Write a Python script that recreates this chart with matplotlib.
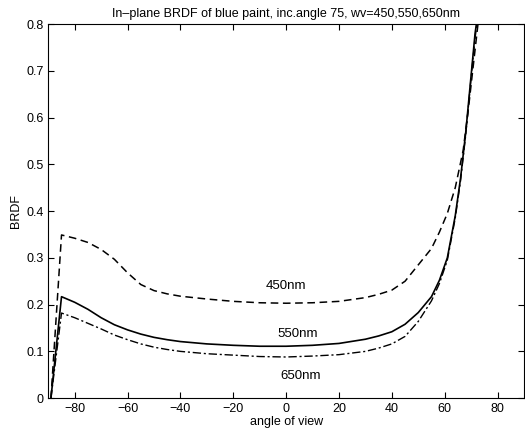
import matplotlib
matplotlib.use('Agg')
import matplotlib.pyplot as plt

plt.rcParams['font.family'] = ['Liberation Sans', 'DejaVu Sans']

# in-plane BRDF
angle_450 = [-89, -85, -80, -75, -70, -65, -60, -55, -50, -45, -40, -30, -20, -10, 0, 10, 20, 30, 35, 40, 45, 50, 55, 58, 61, 64, 67, 69, 71, 72.6]
brdf_450 = [0.0, 0.349, 0.342, 0.333, 0.318, 0.297, 0.268, 0.243, 0.230, 0.223, 0.218, 0.212, 0.207, 0.204, 0.203, 0.204, 0.207, 0.215, 0.222, 0.231, 0.250, 0.285, 0.320, 0.355, 0.395, 0.450, 0.530, 0.620, 0.720, 0.80]

angle_550 = [-89, -85, -80, -75, -70, -65, -60, -55, -50, -45, -40, -30, -20, -10, 0, 10, 20, 30, 35, 40, 45, 50, 55, 58, 61, 64, 66, 68, 70, 71.5, 72]
brdf_550 = [0.0, 0.217, 0.205, 0.190, 0.172, 0.157, 0.146, 0.137, 0.130, 0.125, 0.121, 0.116, 0.113, 0.111, 0.111, 0.113, 0.117, 0.126, 0.133, 0.142, 0.158, 0.183, 0.217, 0.252, 0.300, 0.390, 0.470, 0.570, 0.690, 0.780, 0.80]

angle_650 = [-89, -85, -80, -75, -70, -65, -60, -55, -50, -45, -40, -30, -20, -10, 0, 10, 20, 30, 35, 40, 45, 50, 55, 58, 61, 64, 66, 68, 70, 71.5, 72.2]
brdf_650 = [0.0, 0.182, 0.172, 0.160, 0.148, 0.135, 0.125, 0.116, 0.109, 0.104, 0.100, 0.095, 0.092, 0.089, 0.088, 0.090, 0.093, 0.100, 0.107, 0.116, 0.132, 0.164, 0.208, 0.245, 0.295, 0.385, 0.465, 0.565, 0.685, 0.770, 0.80]

labels = ['450nm', '550nm', '650nm']
label_x = [0, 4.4, 5.3]
label_y = [0.24, 0.137, 0.048]

fig = plt.figure(figsize=(5.25, 4.38), dpi=100)
ax = fig.add_axes([0.092, 0.091, 0.906, 0.854])

ax.plot(angle_450, brdf_450, color='black', linestyle=(0, (5, 3)), linewidth=1.1)
ax.plot(angle_550, brdf_550, color='black', linestyle='-', linewidth=1.2)
ax.plot(angle_650, brdf_650, color='black', linestyle=(0, (6, 2, 1.5, 2)), linewidth=1.0)

for txt, x, y in zip(labels, label_x, label_y):
    ax.text(x, y, txt, ha='center', va='center', fontsize=9.5)

ax.set_xlim(-90, 90)
ax.set_ylim(0, 0.8)
ax.set_xticks(range(-80, 81, 20))
ax.set_yticks([0, 0.1, 0.2, 0.3, 0.4, 0.5, 0.6, 0.7, 0.8])
ax.set_yticklabels(['0', '0.1', '0.2', '0.3', '0.4', '0.5', '0.6', '0.7', '0.8'])
ax.tick_params(direction='in', top=True, right=True, labelsize=9, length=4)

ax.set_xlabel('angle of view', fontsize=9, labelpad=1)
ax.set_ylabel('BRDF', fontsize=9, labelpad=3)
ax.set_title('In\u2013plane BRDF of blue paint, inc.angle 75, wv=450,550,650nm', fontsize=9, pad=5)

fig.savefig('out.png', dpi=100)
